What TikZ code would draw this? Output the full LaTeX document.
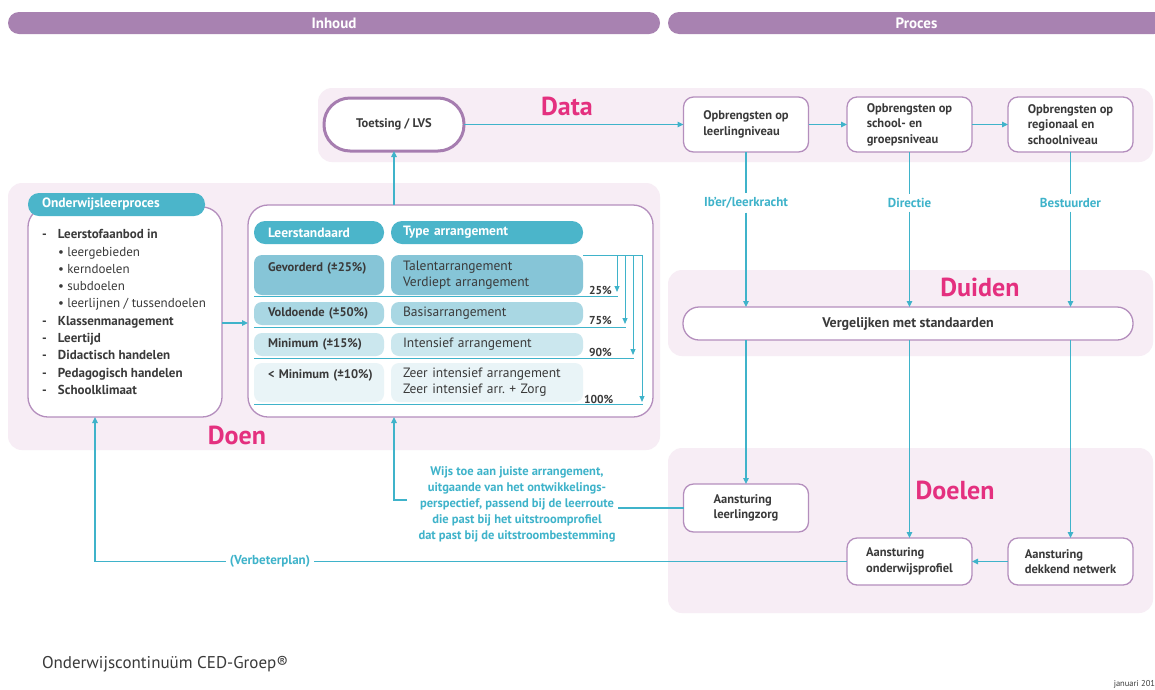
\documentclass[tikz,border=0pt]{standalone}
\usepackage{fontspec}
\setmainfont{PT Sans}
\usetikzlibrary{arrows.meta,calc}
\definecolor{hdr}{HTML}{A882B1}
\definecolor{bgpink}{HTML}{F7EDF5}
\definecolor{boxpurple}{HTML}{B48EBD}
\definecolor{toetspurple}{HTML}{A67DB0}
\definecolor{cyanc}{HTML}{3FB3CA}
\definecolor{pinkc}{HTML}{E4307F}
\definecolor{pillc}{HTML}{4BB5CA}
\definecolor{cA}{HTML}{86C5D7}
\definecolor{cB}{HTML}{A9D7E3}
\definecolor{cC}{HTML}{CBE7EE}
\definecolor{cD}{HTML}{E9F4F7}
\definecolor{txt}{HTML}{3A3A3A}
\frenchspacing
\begin{document}
\begin{tikzpicture}[x=1pt,y=-1pt,
  every node/.style={inner sep=0pt, outer sep=0pt},
  bgpanel/.style={fill=bgpink, rounded corners=14pt},
  hbar/.style={fill=hdr, rounded corners=11pt, text=white, font=\bfseries\fontsize{15}{17}\selectfont},
  pbox/.style={draw=boxpurple, line width=1.3pt, fill=white, rounded corners=10pt, text=txt, align=left, font=\bfseries\fontsize{12.5}{15.5}\selectfont},
  pill/.style={fill=pillc, rounded corners=11pt, text=white, align=left, font=\bfseries\fontsize{13.5}{15}\selectfont},
  cellL/.style={rounded corners=8pt, text=txt, align=left, text width=102pt, inner xsep=14pt, font=\bfseries\fontsize{12.5}{16}\selectfont},
  cellR/.style={rounded corners=8pt, text=txt, align=left, text width=168pt, inner xsep=12pt, font=\fontsize{13.5}{16}\selectfont},
  pct/.style={anchor=west, text=txt, font=\bfseries\fontsize{11.5}{13}\selectfont},
  arr/.style={draw=cyanc, line width=1.4pt, -{Triangle[length=6pt,width=5.5pt]}},
  tarr/.style={draw=cyanc, line width=1pt, -{Triangle[length=6pt,width=5pt]}},
  cline/.style={draw=cyanc, line width=1.4pt},
  tline/.style={draw=cyanc, line width=1pt},
  pinklbl/.style={text=pinkc, font=\bfseries\fontsize{26}{28}\selectfont},
  role/.style={text=cyanc, inner sep=4pt, font=\bfseries\fontsize{13}{15}\selectfont}]

\useasboundingbox (0,0) rectangle (1155,689);
\fill[white] (0,0) rectangle (1155,689);

% header bars
\node[hbar, minimum width=652, minimum height=22] (inhoud) at (334,23) {Inhoud};
\node[hbar, minimum width=497, minimum height=22] (proces) at (916.5,23) {Proces};

% background panels
\fill[bgpanel] (318,88) rectangle (1153,162);
\fill[bgpanel] (8,183) rectangle (660,450);
\fill[bgpanel] (668,270) rectangle (1153,356);
\fill[bgpanel] (668,448) rectangle (1153,613);

% panel labels
\node[pinklbl] (ldata) at (567,106) {Data};
\node[pinklbl] (lduiden) at (980,287) {Duiden};
\node[pinklbl] (ldoelen) at (955,490) {Doelen};
\node[pinklbl] (ldoen) at (237,435) {Doen};

% Data row
\node[pbox, draw=toetspurple, line width=3pt, minimum width=140, minimum height=53, rounded corners=26pt] (toets) at (394,124.5) {Toetsing / LVS};
\node[pbox, minimum width=125, minimum height=55] (o1) at (746,124.5) {Opbrengsten op\\leerlingniveau};
\node[pbox, minimum width=125, minimum height=55] (o2) at (909.5,124.5) {Opbrengsten op\\school- en\\groepsniveau};
\node[pbox, minimum width=125, minimum height=55] (o3) at (1070.5,124.5) {Opbrengsten op\\regionaal en\\schoolniveau};

\draw[arr] (toets) -- (o1);
\draw[arr] (o1) -- (o2);
\draw[arr] (o2) -- (o3);

% roles
\node[role] (r1) at (746,203) {Ib’er/leerkracht};
\node[role] (r2) at (909.5,203) {Directie};
\node[role] (r3) at (1070.5,203) {Bestuurder};

% Duiden
\node[pbox, minimum width=450, minimum height=33, rounded corners=16pt, align=center, font=\bfseries\fontsize{14}{16}\selectfont] (verg) at (908,323.5) {Vergelijken met standaarden};

\draw[cline] (o1) -- (r1);
\draw[cline] (o2) -- (r2);
\draw[cline] (o3) -- (r3);
\draw[arr] (r1) -- (r1 |- verg.north);
\draw[arr] (r2) -- (r2 |- verg.north);
\draw[arr] (r3) -- (r3 |- verg.north);

% Doelen
\node[pbox, minimum width=125, minimum height=48] (alz) at (746,508) {Aansturing\\leerlingzorg};
\node[pbox, minimum width=125, minimum height=47] (aop) at (909.5,561.5) {Aansturing\\onderwijsprofiel};
\node[pbox, minimum width=125, minimum height=47] (adn) at (1070.5,561.5) {Aansturing\\dekkend netwerk};

\draw[arr] (verg.south -| alz.north) -- (alz.north);
\draw[arr] (verg.south -| aop.north) -- (aop.north);
\draw[arr] (verg.south -| adn.north) -- (adn.north);
\draw[arr] (adn) -- (aop);

% Onderwijsleerproces
\node[pbox, minimum width=194, minimum height=210, rounded corners=20pt] (olp) at (125,312) {};
\node[pill, minimum height=23, text width=149pt, inner xsep=14pt] (olph) at (116.5,204.5) {Onderwijsleerproces};
\node[anchor=north west, text=txt, align=left, font=\fontsize{13}{17.3}\selectfont] (olplist) at (42,229.5)
{\textbf{\makebox[16pt][l]{-}Leerstofaanbod in}\\
 \hspace{16pt}• leergebieden\\
 \hspace{16pt}• kerndoelen\\
 \hspace{16pt}• subdoelen\\
 \hspace{16pt}• leerlijnen / tussendoelen\\
 \textbf{\makebox[16pt][l]{-}Klassenmanagement}\\
 \textbf{\makebox[16pt][l]{-}Leertijd}\\
 \textbf{\makebox[16pt][l]{-}Didactisch handelen}\\
 \textbf{\makebox[16pt][l]{-}Pedagogisch handelen}\\
 \textbf{\makebox[16pt][l]{-}Schoolklimaat}};

% table
\node[pbox, minimum width=405, minimum height=212, rounded corners=20pt] (tbl) at (450.5,311) {};
\node[pill, minimum height=23, text width=102pt, inner xsep=14pt] (hL) at (319,232.5) {Leerstandaard};
\node[pill, minimum height=23, text width=168pt, inner xsep=12pt] (hR) at (487,232.5) {Type arrangement};

\node[cellL, fill=cA, minimum height=40] (g1) at (319,275) {\makebox[0pt][l]{Gevorderd (±25\%)}\\\mbox{}};
\node[cellR, fill=cA, minimum height=40] (g2) at (487,275) {Talentarrangement\\Verdiept arrangement};
\node[cellL, fill=cB, minimum height=23] (v1) at (319,313.5) {\makebox[0pt][l]{Voldoende (±50\%)}};
\node[cellR, fill=cB, minimum height=23] (v2) at (487,313.5) {Basisarrangement};
\node[cellL, fill=cC, minimum height=23] (m1) at (319,344.5) {\makebox[0pt][l]{Minimum (±15\%)}};
\node[cellR, fill=cC, minimum height=23] (m2) at (487,344.5) {Intensief arrangement};
\node[cellL, fill=cD, minimum height=39] (l1) at (319,382.5) {\makebox[0pt][l]{< Minimum (±10\%)}\\\mbox{}};
\node[cellR, fill=cD, minimum height=39] (l2) at (487,382.5) {Zeer intensief arrangement\\Zeer intensief arr. + Zorg};

\node[pct] (p25) at (589,290) {25\%};
\node[pct] (p75) at (589,320) {75\%};
\node[pct] (p90) at (589,352) {90\%};
\node[pct] (p100) at (584,399) {100\%};

\draw[tline] (g2.north east) -- (643,255);
\draw[tarr] (617,255) -- (617,292);
\draw[tarr] (625,255) -- (625,324);
\draw[tarr] (633,255) -- (633,355);
\draw[tarr] (642,255) -- (642,402);
\draw[tline] (254,296) -- (618,296);
\draw[tline] (254,327) -- (626,327);
\draw[tline] (254,358) -- (634,358);
\draw[tline] (254,404) -- (643,404);

% connectors Doen
\draw[arr] (olp.east |- 0,323) -- (tbl.west |- 0,323);
\draw[arr] (tbl.north -| toets.south) -- (toets.south);

% Wijs toe
\node[text=cyanc, align=center, inner sep=3pt, font=\bfseries\fontsize{12.5}{16}\selectfont] (wijs) at (517,504)
{Wijs toe aan juiste arrangement,\\uitgaande van het ontwikkelings-\\perspectief, passend bij de leerroute\\die past bij het uitstroomprofiel\\dat past bij de uitstroombestemming};
\draw[cline] (alz.west) -- (alz.west -| wijs.east);
\coordinate (brk) at (407,500);
\coordinate (brc) at (394,500);
\draw[arr] (brk) -- (brc) -- (brc |- tbl.south);

% Verbeterplan
\node[text=cyanc, fill=white, inner xsep=4pt, inner ysep=2pt, font=\bfseries\fontsize{13}{15}\selectfont] (vb) at (270,561.5) {(Verbeterplan)};
\coordinate (vbc) at (95,561.5);
\draw[cline] (aop.west) -- (vb.east);
\draw[arr] (vb.west) -- (vbc) -- (vbc |- olp.south);

% footer
\node[anchor=west, text=txt, font=\fontsize{17}{19}\selectfont] (foot) at (42,664) {Onderwijscontinuüm CED-Groep®};
\node[anchor=east, text=txt, font=\fontsize{8.5}{10}\selectfont] (jan) at (1155,684) {januari 201};
\end{tikzpicture}
\end{document}
